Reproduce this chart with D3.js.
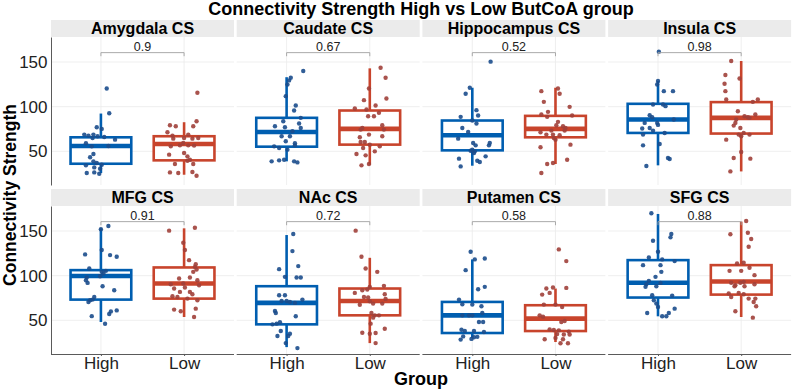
<!DOCTYPE html>
<html>
<head>
<meta charset="utf-8">
<script src="https://cdn.jsdelivr.net/npm/d3@7"></script>
<style>
  body { margin: 0; background: #fff; }
  svg text { font-family: "Liberation Sans", Arial, sans-serif; }
</style>
</head>
<body>
<div id="chart"></div>
<script>
// facet labels, groups, wilcoxon p-values
var regions = ["Amygdala CS", "Caudate CS", "Hippocampus CS", "Insula CS",
               "MFG CS", "NAc CS", "Putamen CS", "SFG CS"];
var groups = ["High", "Low"];
var pValues = ["0.9", "0.67", "0.52", "0.98", "0.91", "0.72", "0.58", "0.88"];
var yTicks = [50, 100, 150];

// box stats: [lower whisker, q1, median, q3, upper whisker]
var boxHigh = [
  [25.7, 36.1, 56.0, 65.7, 92.3],
  [38.8, 55.2, 71.7, 87.5, 133],
  [33.9, 51.1, 68.0, 84.5, 121.2],
  [34.3, 70.6, 85.6, 103.2, 128.7],
  [48.1, 73.2, 99.6, 106.2, 153],
  [20.0, 45.5, 69.5, 88.2, 145.5],
  [30.5, 35.8, 55.6, 70.6, 118.2],
  [54.5, 75.5, 92.0, 117.4, 169.1]
];
var boxLow = [
  [23.8, 39.9, 58.2, 66.9, 82.6],
  [35.0, 57.5, 75.1, 95.7, 142.9],
  [35.8, 65.7, 75.1, 89.7, 121.2],
  [27.5, 69.9, 87.5, 105.1, 151.1],
  [53.7, 74.3, 91.2, 109.2, 153],
  [24.5, 55.6, 71.7, 85.6, 120.0],
  [25.7, 38.0, 51.9, 66.9, 85.6],
  [53.7, 78.8, 93.4, 111.8, 160.5]
];

// individual points: [value, horizontal jitter in category steps]
var amygdalaHigh = [[120.4,0.07],[92.7,0.10],[77.0,-0.05],[75.1,0.01],[68.7,-0.20],[67.6,-0.15],[68.7,-0.09],[66.9,-0.04],[66.1,0.04],[63.1,0.17],[65.0,-0.10],[59.0,-0.18],[55.6,-0.11],[56.0,0.09],[47.0,-0.09],[43.3,-0.13],[38.8,-0.09],[36.9,-0.05],[34.3,-0.18],[35.0,0.01],[32.0,-0.08],[30.5,-0.01],[25.7,-0.17],[26.4,-0.08],[24.9,-0.02]];
var amygdalaLow = [[115.5,0.16],[83.7,0.15],[79.2,-0.17],[78.1,-0.10],[78.1,0.11],[71.3,-0.20],[68.7,0.05],[67.6,-0.14],[64.2,-0.13],[65.0,0],[64.2,0.10],[65.0,0.17],[59.4,-0.01],[56.7,-0.05],[56.7,0.05],[55.6,-0.16],[56.4,0.12],[46.3,-0.18],[48.1,0],[44.4,0.04],[40.6,0.07],[35.8,-0.11],[39.5,0.04],[35.8,0.11],[25.7,-0.07],[26.4,-0.17],[26.8,0.10],[22.7,0.15]];
var caudateHigh = [[139.9,0.20],[132.4,0.05],[129.4,0.03],[124.9,0.01],[111.8,-0.01],[101.3,0.11],[95.7,0.09],[87.5,0.17],[83.7,-0.04],[78.1,-0.14],[77.0,-0.02],[81.1,0.15],[76.2,0.17],[72.5,0.07],[66.9,-0.06],[66.9,0.04],[55.6,-0.15],[53.7,-0.09],[61.2,-0.01],[59.0,0.10],[56.7,0.10],[40.6,-0.03],[39.9,-0.09],[38.8,-0.18],[38.8,0.09],[37.6,0.13],[51.9,0.01]];
var caudateLow = [[143.6,0.13],[132.4,0.19],[120.4,-0.01],[107.3,-0.07],[109.2,0.20],[97.9,-0.18],[101.3,0.07],[96.8,-0.04],[89.3,-0.02],[89.3,0.05],[93.1,0.11],[76.2,-0.09],[74.3,-0.11],[79.2,0.15],[74.3,0.17],[68.7,-0.01],[66.9,0.15],[65.7,-0.12],[60.5,-0.06],[57.5,0],[55.6,0.12],[53.7,-0.08],[50.0,0.06],[47.0,-0.16],[45.5,-0.05],[34.3,-0.10],[35.8,-0.01],[60.5,-0.11]];
var hippocampusHigh = [[150.4,0.22],[121.2,-0.03],[114.4,-0.08],[96.1,0.05],[90.1,0.07],[88.6,-0.14],[84.5,0],[81.1,0.05],[76.2,-0.12],[71.7,-0.05],[64.2,-0.17],[59.4,0.01],[59.4,0.21],[56.7,0.20],[56.7,0.04],[51.9,0],[50.7,-0.02],[50.0,0.03],[44.4,0.16],[41.8,-0.16],[38.0,0.09],[39.5,0.06],[33.1,-0.14],[48.1,0.02]];
var hippocampusLow = [[117.4,-0.17],[120.4,0.03],[114.4,0.05],[105.4,-0.14],[99.8,0.17],[94.2,-0.09],[91.2,-0.17],[90.1,0.20],[88.6,-0.10],[83.0,0.03],[79.2,0.01],[71.3,-0.18],[78.1,0.09],[76.2,0.12],[73.2,-0.05],[73.2,0.11],[68.7,-0.11],[68.7,-0.03],[68.0,0.05],[63.1,0],[57.5,0.18],[54.5,-0.18],[40.6,0.14],[35.8,-0.10],[36.9,-0.03],[25.7,-0.17],[65.0,-0.02]];
var insulaHigh = [[161.6,0.01],[128.7,0],[124.9,-0.01],[117.4,0.07],[117.4,0.18],[102.4,-0.06],[102.4,0.06],[100.6,0.09],[90.4,-0.10],[88.2,-0.07],[85.6,0.19],[81.8,-0.16],[81.8,-0.01],[76.2,-0.10],[75.5,-0.19],[79.6,0],[68.7,-0.18],[73.2,-0.06],[70.6,0.08],[56.7,-0.18],[58.2,0.02],[42.5,0.12],[41.4,0.14],[33.5,-0.14]];
var insulaLow = [[151.1,-0.12],[131.6,-0.02],[135.4,-0.19],[125.7,-0.20],[117.4,-0.19],[108.1,-0.18],[105.4,0.14],[108.1,0.20],[94.9,-0.04],[91.2,0.17],[89.3,0.04],[88.2,0.08],[87.5,0.10],[85.6,-0.06],[81.8,-0.07],[78.8,-0.09],[76.2,-0.01],[70.6,0.03],[68.7,0.10],[66.9,0],[63.1,-0.18],[49.3,0],[42.5,-0.09],[41.8,0.11],[27.5,-0.13],[68.7,-0.03]];
var mfgHigh = [[155.6,0.09],[151.9,0],[128.7,0.01],[123.8,-0.19],[123.0,0.11],[121.2,0.19],[108.1,-0.14],[105.4,0.06],[102.4,0.03],[97.9,-0.17],[91.9,-0.16],[94.9,-0.18],[88.2,0.02],[83.7,0.16],[76.2,-0.08],[72.5,-0.13],[73.2,-0.10],[70.6,-0.15],[61.1,0.19],[60.0,0.12],[57.0,0.10],[54.7,-0.11],[46.1,0.05],[104.3,0.01],[99.4,-0.01]];
var mfgLow = [[150.4,-0.18],[153.7,0.13],[136.9,-0.01],[128.7,0.01],[117.4,0.06],[112.9,0.14],[109.9,0.13],[106.9,0.15],[104.3,0.11],[96.8,-0.06],[97.9,0.07],[94.9,0.16],[89.3,0.18],[90.4,-0.16],[91.2,-0.01],[85.6,-0.12],[86.7,0.01],[81.8,-0.05],[81.8,0.07],[79.2,0.10],[77.0,-0.14],[76.2,-0.08],[72.5,0.16],[63.1,0.14],[62.0,-0.12],[60.1,-0.04],[53.7,0.12],[74.3,0.04]];
var nacHigh = [[146.6,0.08],[127.5,0.07],[107.3,-0.09],[110.7,0.14],[98.7,-0.02],[97.9,0.12],[97.9,0.17],[78.1,-0.09],[78.1,-0.02],[73.2,0.19],[71.7,-0.06],[71.7,0],[70.6,0.04],[69.5,0.10],[60.5,-0.14],[58.2,-0.13],[54.5,0.11],[45.5,-0.17],[46.3,-0.12],[47.8,-0.08],[38.0,-0.07],[35.0,0.04],[32.4,0.02],[32.4,-0.11],[24.5,-0.01],[18.9,0.13]];
var nacLow = [[150.4,-0.17],[121.2,-0.10],[108.1,-0.05],[104.3,0.09],[87.5,0],[88.6,0.17],[83.7,-0.09],[80.7,-0.18],[76.2,-0.07],[75.5,-0.02],[79.2,0.18],[74.0,0.19],[67.4,-0.12],[71.3,0],[68.7,0.04],[68.7,0.15],[58.2,0.02],[55.6,0.06],[55.6,0.11],[53.0,0.04],[46.3,0.01],[36.1,-0.09],[35.8,0.07],[40.6,0.18],[35.0,0],[24.5,0.07],[84.5,-0.03]];
var putamenHigh = [[126.8,-0.02],[118.2,0.03],[119.3,0.15],[106.2,-0.08],[87.5,0.15],[84.8,0.07],[73.2,-0.16],[68.0,-0.12],[67.6,0],[65.7,0.11],[55.6,-0.12],[55.6,-0.04],[55.6,0],[58.2,0.12],[48.1,0.08],[48.1,0.13],[39.5,-0.13],[38.0,-0.09],[38.0,0.02],[36.9,0.14],[32.0,-0.11],[28.4,-0.14],[29.2,-0.01],[31.5,0.06],[31.1,0.02]];
var putamenLow = [[129.4,0.04],[116.3,0.13],[86.3,0.13],[85.6,-0.11],[86.7,-0.03],[80.7,-0.07],[78.8,-0.16],[67.6,-0.14],[67.6,0],[65.0,0.08],[55.6,-0.19],[54.1,-0.15],[49.3,0.11],[48.1,0.07],[39.9,-0.07],[39.1,-0.02],[38.8,0.04],[37.4,0.16],[34.6,0.02],[34.2,0.10],[34.2,0.17],[28.8,-0.13],[28.8,0.09],[24.3,0.06],[24.3,0.15],[30.3,0]];
var sfgHigh = [[169.9,-0.08],[146.6,0.16],[142.9,0.15],[139.1,-0.06],[126.8,0],[120.4,-0.11],[118.2,0.05],[116.3,0.20],[111.8,-0.18],[111.8,0.03],[104.3,0.04],[98.7,-0.03],[94.2,-0.11],[90.4,-0.14],[87.5,-0.15],[88.2,-0.02],[91.9,0.03],[78.1,-0.07],[77.7,0.17],[72.5,-0.05],[68.7,-0.02],[65.0,0],[58.2,-0.13],[63.1,0.20],[58.2,0.13],[54.5,0.05],[54.5,0.10]];
var sfgLow = [[161.2,0.06],[146.3,-0.13],[148.1,0.08],[141.0,0.12],[132.4,0.09],[113.7,-0.05],[114.4,0.03],[108.8,0.10],[105.4,-0.14],[105.4,0],[100.6,0.16],[92.0,-0.12],[89.3,-0.07],[92.0,-0.01],[93.1,0.03],[88.2,-0.08],[88.2,0.04],[90.4,0.16],[80.0,-0.15],[79.2,0.03],[76.2,-0.12],[74.3,0.09],[74.3,0.17],[70.6,0.15],[65.7,0.18],[60.1,-0.07],[53.0,0.14],[80.7,-0.03]];

var pointsHigh = [amygdalaHigh, caudateHigh, hippocampusHigh, insulaHigh, mfgHigh, nacHigh, putamenHigh, sfgHigh];
var pointsLow = [amygdalaLow, caudateLow, hippocampusLow, insulaLow, mfgLow, nacLow, putamenLow, sfgLow];

var bracketY = 160.5, bracketTick = 4;

var width = 793, height = 392;
var panelX0 = 51, panelStep = 185.7, panelW = 183;
var stripTop = [20, 189], stripH = 17, panelTop = [37, 206], panelH = 148;

var boxColor = {High: "#005eb0", Low: "#c8442c"};
var dotColor = {High: "#1b4d8c", Low: "#a0403a"};

var svg = d3.select("#chart")
  .append("svg")
  .attr("width", width)
  .attr("height", height);

var xScale = d3.scalePoint()
  .domain(groups)
  .range([0, panelW])
  .padding(0.6);
var step = xScale.step();

var yScale = d3.scaleLinear()
  .domain([12.3, 178])
  .range([panelH, 0]);

//Title
svg.append("text")
  .attr("x", 421)
  .attr("y", 14.5)
  .attr("text-anchor", "middle")
  .style("font-size", "18px")
  .style("font-weight", "bold")
  .text("Connectivity Strength High vs Low ButCoA group");

regions.forEach(function(name, i) {
  var row = Math.floor(i / 4), col = i % 4;
  var px = panelX0 + col * panelStep;

  //Strip
  svg.append("rect")
    .attr("x", px)
    .attr("y", stripTop[row])
    .attr("width", panelW)
    .attr("height", stripH)
    .attr("fill", "#ebebeb");

  svg.append("text")
    .attr("x", px + panelW / 2)
    .attr("y", stripTop[row] + 14.3)
    .attr("text-anchor", "middle")
    .style("font-size", "16px")
    .style("font-weight", "bold")
    .text(name);

  var g = svg.append("g")
    .attr("transform", "translate(" + px + "," + panelTop[row] + ")");

  // gridlines
  g.selectAll(".hgrid")
    .data(yTicks)
    .enter()
    .append("line")
    .attr("x1", 0).attr("x2", panelW)
    .attr("y1", function(d) { return yScale(d); })
    .attr("y2", function(d) { return yScale(d); })
    .attr("stroke", "#ebebeb")
    .attr("stroke-width", 0.8);

  g.selectAll(".vgrid")
    .data(groups)
    .enter()
    .append("line")
    .attr("x1", function(d) { return xScale(d); })
    .attr("x2", function(d) { return xScale(d); })
    .attr("y1", 0).attr("y2", panelH)
    .attr("stroke", "#ebebeb")
    .attr("stroke-width", 0.8);

  // boxes
  var stats = {High: boxHigh[i], Low: boxLow[i]};
  var bw = 0.73 * step;
  groups.forEach(function(grp) {
    var s = stats[grp], cx = xScale(grp);
    g.append("line")
      .attr("x1", cx).attr("x2", cx)
      .attr("y1", yScale(s[3])).attr("y2", yScale(s[4]))
      .attr("stroke", boxColor[grp]).attr("stroke-width", 2.6);
    g.append("line")
      .attr("x1", cx).attr("x2", cx)
      .attr("y1", yScale(s[1])).attr("y2", yScale(s[0]))
      .attr("stroke", boxColor[grp]).attr("stroke-width", 2.6);
    g.append("rect")
      .attr("x", cx - bw / 2)
      .attr("y", yScale(s[3]))
      .attr("width", bw)
      .attr("height", yScale(s[1]) - yScale(s[3]))
      .attr("fill", "white")
      .attr("stroke", boxColor[grp])
      .attr("stroke-width", 2.6);
    g.append("line")
      .attr("x1", cx - bw / 2).attr("x2", cx + bw / 2)
      .attr("y1", yScale(s[2])).attr("y2", yScale(s[2]))
      .attr("stroke", boxColor[grp]).attr("stroke-width", 4.6);
  });

  // jittered points
  var pts = pointsHigh[i].map(function(p) { return {grp: "High", v: p[0], j: p[1]}; })
    .concat(pointsLow[i].map(function(p) { return {grp: "Low", v: p[0], j: p[1]}; }));

  g.selectAll("circle")
    .data(pts)
    .enter()
    .append("circle")
    .attr("cx", function(d) { return xScale(d.grp) + d.j * step; })
    .attr("cy", function(d) { return yScale(d.v); })
    .attr("r", 2.2)
    .attr("fill", function(d) { return dotColor[d.grp]; })
    .attr("fill-opacity", 0.9);

  // p-value bracket
  var x1 = xScale("High"), x2 = xScale("Low"), by = yScale(bracketY);
  g.append("path")
    .attr("d", "M" + x1 + "," + yScale(bracketY - bracketTick) + "V" + by + "H" + x2 + "V" + yScale(bracketY - bracketTick))
    .attr("fill", "none")
    .attr("stroke", "#a0a0a0")
    .attr("stroke-width", 0.9);

  g.append("text")
    .attr("x", (x1 + x2) / 2)
    .attr("y", by - 2)
    .attr("text-anchor", "middle")
    .style("font-size", "12.5px")
    .attr("fill", "#222")
    .text(pValues[i]);

  // y axis on the left column
  if (col === 0) {
    var yAxis = d3.axisLeft(yScale)
      .tickValues(yTicks)
      .tickSize(0)
      .tickPadding(3.5);
    var ya = g.append("g").call(yAxis);
    ya.select(".domain").attr("stroke", "#5a5a5a");
    ya.selectAll("text").style("font-size", "17px").attr("fill", "#222");
  }

  // x axis on the bottom row
  if (row === 1) {
    var xAxis = d3.axisBottom(xScale)
      .tickSize(2)
      .tickPadding(1);
    var xa = g.append("g")
      .attr("transform", "translate(0," + panelH + ")")
      .call(xAxis);
    xa.select(".domain").attr("stroke", "#5a5a5a").attr("d", "M0,0.5H" + panelW);
    xa.selectAll(".tick line").attr("stroke", "#5a5a5a");
    xa.selectAll("text").style("font-size", "17px").attr("fill", "#222");
  }
});

//Axis titles
svg.append("text")
  .attr("transform", "translate(15.5,195) rotate(-90)")
  .attr("text-anchor", "middle")
  .style("font-size", "17.5px")
  .style("font-weight", "bold")
  .text("Connectivity Strength");

svg.append("text")
  .attr("x", 421)
  .attr("y", 385)
  .attr("text-anchor", "middle")
  .style("font-size", "18px")
  .style("font-weight", "bold")
  .text("Group");
</script>
</body>
</html>
